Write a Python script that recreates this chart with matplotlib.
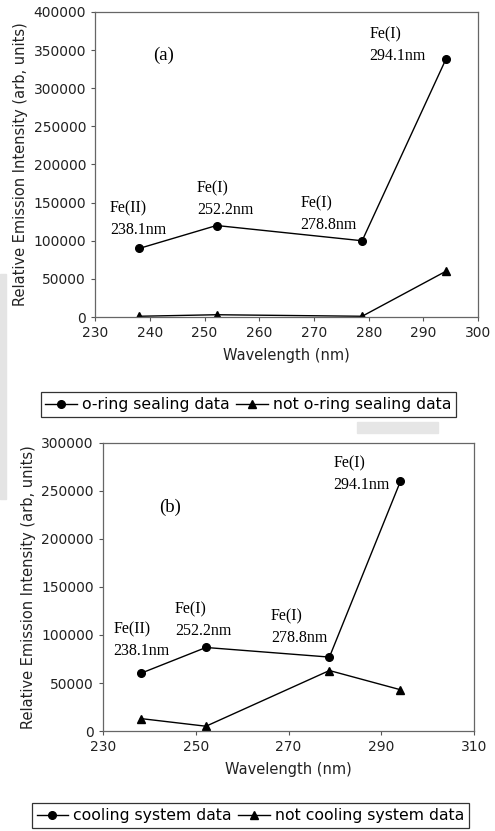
import matplotlib
matplotlib.use("Agg")
import matplotlib.pyplot as plt
from matplotlib.patches import Rectangle

# wavelengths of the Fe lines (nm)
wl = [238.1, 252.2, 278.8, 294.1]

# (a) o-ring sealing
oring = [90000, 120000, 100000, 338000]
no_oring = [1000, 3000, 1000, 60000]

# (b) cooling system
cooling = [60000, 87000, 77000, 260000]
no_cooling = [13000, 5000, 63000, 43000]

line_labels = ["Fe(II)\n238.1nm", "Fe(I)\n252.2nm", "Fe(I)\n278.8nm", "Fe(I)\n294.1nm"]

plt.rcParams['font.family'] = ['DejaVu Sans']
fig = plt.figure(figsize=(4.95, 8.31), dpi=100)

# faint grey scan artefacts
fig.patches.append(Rectangle((0, 0.40), 0.012, 0.27, transform=fig.transFigure,
                             color='#e4e4e4', zorder=0))
fig.patches.append(Rectangle((0.721, 0.479), 0.164, 0.013, transform=fig.transFigure,
                             color='#e6e6e6', zorder=0))

serif = {'family': 'Liberation Serif', 'size': 11.5}


def panel(rect, y1, y2, xlim, xticks, ylim, yticks, lab_pos, tag, tag_pos, names, leg_y, leg_x):
    ax = fig.add_axes(rect)
    l1, = ax.plot(wl, y1, 'k-', marker='o', ms=5.5, lw=1)
    l2, = ax.plot(wl, y2, 'k-', marker='^', ms=5.5, lw=1)
    ax.set_xlim(*xlim)
    ax.set_ylim(*ylim)
    ax.set_xticks(xticks)
    ax.set_yticks(yticks)
    ax.tick_params(labelsize=10, length=3, width=0.8, color='#555555', labelcolor='#222222')
    for s in ax.spines.values():
        s.set_color('#666666')
        s.set_linewidth(0.9)
    ax.set_xlabel('Wavelength (nm)', fontsize=10.5, labelpad=6, color='#222222')
    ax.set_ylabel('Relative Emission Intensity (arb, units)', fontsize=10.5, color='#222222')
    for txt, (tx, ty) in zip(line_labels, lab_pos):
        ax.text(tx, ty, txt, va='top', ha='left', fontdict=serif, linespacing=1.45)
    ax.text(tag_pos[0], tag_pos[1], tag, va='center', ha='left',
            fontdict={'family': 'Liberation Serif', 'size': 13.5})
    leg = fig.legend([l1, l2], names, loc='center', ncol=2,
                     bbox_to_anchor=(leg_x, leg_y), fontsize=11.3, frameon=True,
                     fancybox=False, edgecolor='black', handlelength=2.0,
                     handletextpad=0.35, columnspacing=0.4, borderpad=0.3,
                     borderaxespad=0)
    leg.get_frame().set_linewidth(0.9)
    return ax


panel([0.192, 0.6185, 0.774, 0.3671], oring, no_oring,
      (230, 300), range(230, 301, 10), (0, 400000), range(0, 400001, 50000),
      [(232.7, 153000), (248.6, 179000), (267.5, 159000), (280.1, 381000)],
      '(a)', (240.6, 343000),
      ['o-ring sealing data', 'not o-ring sealing data'], 1 - 404.5 / 831, 248.5 / 495)

panel([0.208, 0.1203, 0.750, 0.3467], cooling, no_cooling,
      (230, 310), range(230, 311, 20), (0, 300000), range(0, 300001, 50000),
      [(232.2, 114000), (245.5, 135000), (266.2, 128000), (279.6, 287000)],
      '(b)', (242.1, 233000),
      ['cooling system data', 'not cooling system data'], 1 - 815.5 / 831, 250.5 / 495)

plt.savefig('out.png', dpi=100)
